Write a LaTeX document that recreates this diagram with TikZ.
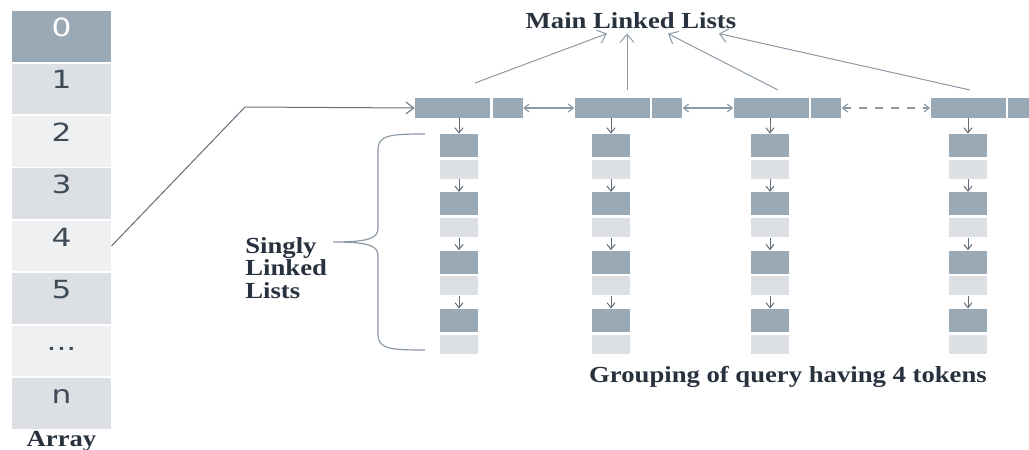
\documentclass[tikz,border=0pt]{standalone}
\usepackage{fontspec}
\usetikzlibrary{positioning,arrows.meta}
\newfontfamily\lblfont[FakeStretch=1.16]{Liberation Serif}
\newfontfamily\numfont[FakeStretch=1.25]{DejaVu Sans}
\newcommand\celldots{...}
\definecolor{boxdark}{RGB}{154,169,182}
\definecolor{boxlight}{RGB}{220,224,229}
\definecolor{boxpale}{RGB}{238,240,242}
\definecolor{numtext}{RGB}{62,74,86}
\definecolor{lbltext}{RGB}{40,50,62}
\definecolor{linkgray}{RGB}{100,110,120}
\definecolor{titlegray}{RGB}{140,154,166}
\tikzset{
  arrcell/.style={rectangle, minimum width=49.5pt, minimum height=25.25pt, inner sep=0pt,
    text height=6pt, text depth=6pt, text=numtext, font=\numfont\fontsize{12.5}{14}\selectfont},
  keybox/.style={rectangle, fill=boxdark, minimum width=37.5pt, minimum height=10pt, inner sep=0pt},
  ptrbox/.style={rectangle, fill=boxdark, minimum width=15pt, minimum height=10pt, inner sep=0pt},
  databox/.style={rectangle, fill=boxdark, minimum width=19pt, minimum height=11.5pt, inner sep=0pt},
  nextbox/.style={rectangle, fill=boxlight, minimum width=19pt, minimum height=9.5pt, inner sep=0pt},
  lbl/.style={font=\lblfont\bfseries\fontsize{11.5}{11.3}\selectfont, text=lbltext, inner sep=0pt},
  subarrow/.style={-{Straight Barb[length=2.5pt,width=4pt]}, draw=linkgray, line width=0.5pt},
  hlink/.style={{Straight Barb[length=2.5pt,width=4pt]}-{Straight Barb[length=2.5pt,width=4pt]}, draw=titlegray, line width=0.6pt},
  uplink/.style={-{Straight Barb[length=4pt,width=7pt]}, draw=titlegray, line width=0.5pt},
}
\begin{document}
\begin{tikzpicture}[x=0.5pt,y=-0.5pt]
	\useasboundingbox (0,0) rectangle (1029,450);
	% array of buckets
	\node[arrcell, fill=boxdark, text=white] (a0) at (61.5,36.5) {0};
	\foreach \i/\t/\f in {1/1/boxlight,2/2/boxpale,3/3/boxlight,4/4/boxpale,5/5/boxlight,6/\celldots/boxpale,7/n/boxlight}
		\node[arrcell, fill=\f] (a\i) at (61.5,{36.5+52.4*\i}) {\t};
	\node[lbl, anchor=base] (arr) at (61.5,446) {Array};
	% main linked list
	\node[keybox] (m1) at (452.5,108) {};
	\node[ptrbox, right=1pt of m1] (m1p) {};
	\node[keybox] (m2) at (612,108) {};
	\node[ptrbox, right=1pt of m2] (m2p) {};
	\node[keybox] (m3) at (771,108) {};
	\node[ptrbox, right=1pt of m3] (m3p) {};
	\node[keybox] (m4) at (968,108) {};
	\node[ptrbox, right=1pt of m4] (m4p) {};
	\path[hlink] (m1p) edge (m2);
	\path[hlink] (m2p) edge (m3);
	\path[hlink, dash pattern=on 4pt off 4pt] (m3p) edge (m4);
	% link from the array
	\coordinate (bend) at (245,107);
	\draw[-{Straight Barb[length=4pt,width=6pt]}, draw=linkgray, line width=0.5pt] (a4.east) -- (bend) -- (m1.west);
	% title and its arrows
	\node[lbl, anchor=base, inner sep=2.5pt] (title) at (631,28) {Main Linked Lists};
	\coordinate (up1) at (475,83);
	\coordinate (up2) at (627,90);
	\coordinate (up3) at (778,90);
	\coordinate (up4) at (970,90);
	\draw[uplink] (up1) -- ([xshift=-12pt]title.south);
	\draw[uplink] (up2) -- ([xshift=-2pt]title.south);
	\draw[uplink] (up3) -- ([xshift=18.5pt]title.south);
	\draw[uplink] (up4) -- ([xshift=44pt]title.south);
	% singly linked lists
	\foreach \c/\x in {1/459,2/611,3/770,4/968}{
		\foreach \r in {1,2,3,4}{
			\node[databox] (s\c\r) at (\x,{145.5+58.3*(\r-1)}) {};
			\node[nextbox, below=1pt of s\c\r] (n\c\r) {};
		}
		\draw[subarrow] (s\c1.north |- m\c.south) -- (s\c1.north);
		\foreach \r/\q in {1/2,2/3,3/4}
			\draw[subarrow] (n\c\r.south) -- (s\c\q.north);
	}
	% brace
	\draw[titlegray, line width=0.6pt] (425,134) .. controls (390,134) and (378,135) .. (378,150)
		-- (378,228) .. controls (378,238) and (370,242) .. (333,242)
		.. controls (370,242) and (378,246) .. (378,256)
		-- (378,334) .. controls (378,349) and (390,350) .. (425,350);
	\node[lbl, align=left, anchor=west] (sll) at (245,268) {Singly\\Linked\\Lists};
	\node[lbl, anchor=base] (grp) at (788,382) {Grouping of query having 4 tokens};
\end{tikzpicture}
\end{document}
